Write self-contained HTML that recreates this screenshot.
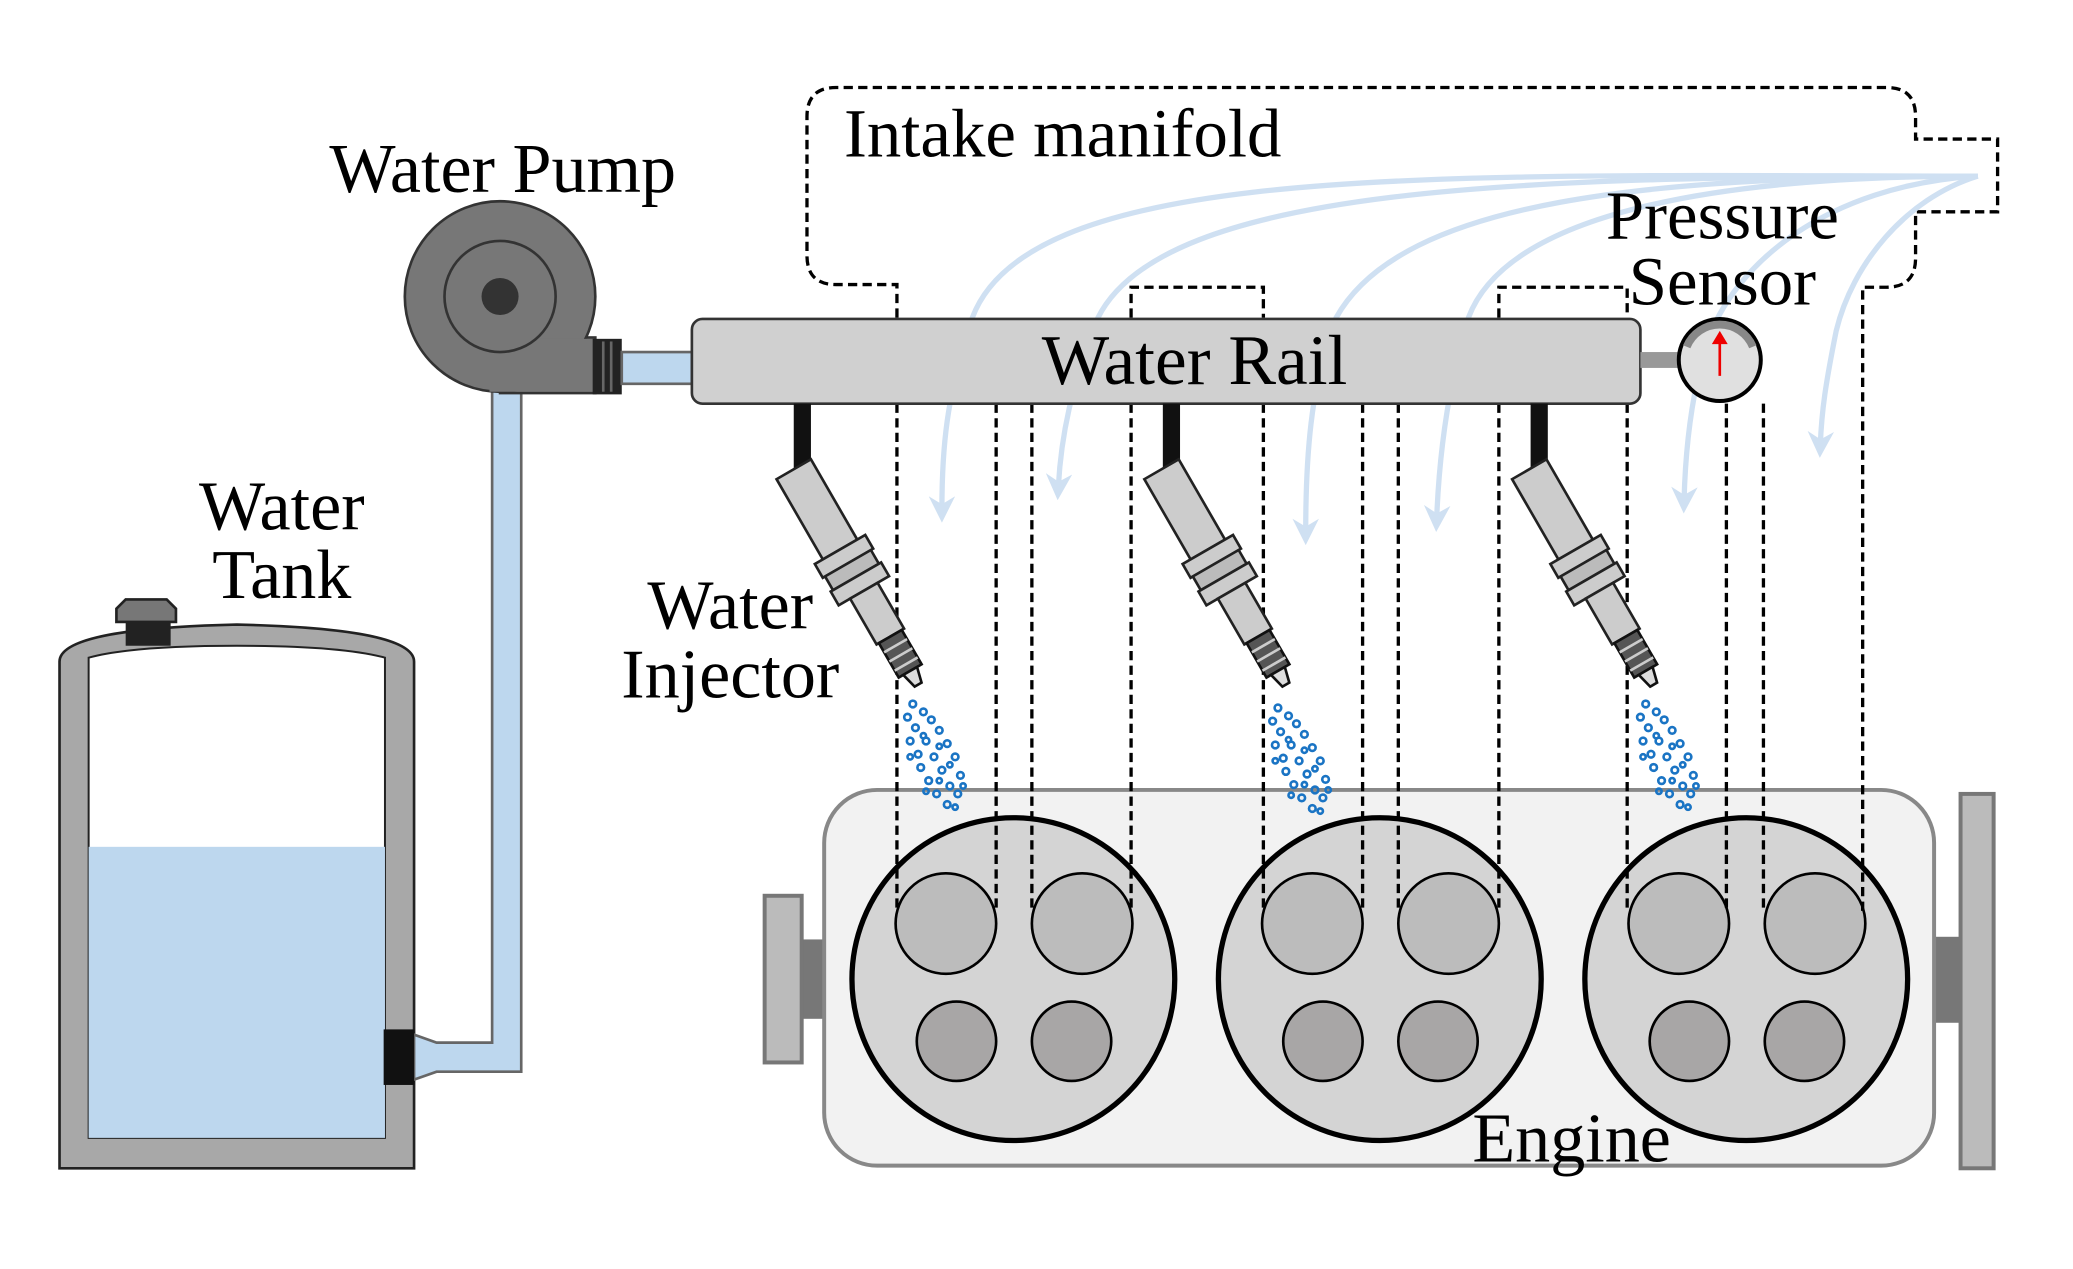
<!DOCTYPE html>
<html><head><meta charset="utf-8"><style>
html,body{margin:0;padding:0;background:#fff}
svg{display:block}
text{font-family:"Liberation Serif",serif;fill:#000}
</style></head><body>
<svg width="2073" height="1269" viewBox="0 0 1567 959" xmlns="http://www.w3.org/2000/svg">
<defs>
<marker id="ar" viewBox="0 0 10 10" refX="5" refY="5" markerWidth="5" markerHeight="5" orient="auto"><path d="M0,0 L10,5 L0,10 L3,5 Z" fill="#cfe0f2"/></marker>
<g id="inj">
  <rect x="-15" y="-12" width="30" height="70" fill="#ccc" stroke="#222" stroke-width="2"/>
  <rect x="-22" y="58" width="44" height="12" fill="#ccc" stroke="#222" stroke-width="2"/>
  <rect x="-20" y="70" width="40" height="12" fill="#bbb" stroke="#222" stroke-width="2"/>
  <rect x="-22" y="82" width="44" height="12" fill="#ccc" stroke="#222" stroke-width="2"/>
  <rect x="-12" y="94" width="24" height="40" fill="#ccc" stroke="#222" stroke-width="2"/>
  <rect x="-10" y="134" width="20" height="30" fill="#555" stroke="#111" stroke-width="2"/>
  <line x1="-10" y1="142" x2="10" y2="142" stroke="#ccc" stroke-width="2"/>
  <line x1="-10" y1="150" x2="10" y2="150" stroke="#ccc" stroke-width="2"/>
  <line x1="-10" y1="158" x2="10" y2="158" stroke="#ccc" stroke-width="2"/>
  <path d="M-6,164 L6,164 L3,176 L-3,176 Z" fill="#ddd" stroke="#111" stroke-width="2"/>
</g>
<g id="spray" fill="none" stroke="#1a74c4" stroke-width="2">
  <circle cx="0" cy="0" r="2.5"/><circle cx="8" cy="6" r="2.5"/><circle cx="-4" cy="10" r="2.5"/><circle cx="14" cy="12" r="2.5"/>
  <circle cx="2" cy="18" r="2.5"/><circle cx="20" cy="20" r="2.5"/><circle cx="-2" cy="28" r="2.5"/><circle cx="10" cy="28" r="2.5"/>
  <circle cx="26" cy="30" r="2.5"/><circle cx="4" cy="38" r="2.5"/><circle cx="16" cy="40" r="2.5"/><circle cx="32" cy="40" r="2.5"/>
  <circle cx="6" cy="48" r="2.5"/><circle cx="22" cy="50" r="2.5"/><circle cx="36" cy="54" r="2.5"/><circle cx="12" cy="58" r="2.5"/>
  <circle cx="28" cy="62" r="2.5"/><circle cx="18" cy="68" r="2.5"/><circle cx="34" cy="68" r="2.5"/><circle cx="26" cy="76" r="2.5"/>
  <circle cx="8" cy="24" r="2"/><circle cx="20" cy="32" r="2"/><circle cx="28" cy="46" r="2"/><circle cx="20" cy="58" r="2"/><circle cx="32" cy="78" r="2"/>
  <circle cx="-2" cy="40" r="2"/><circle cx="10" cy="66" r="2"/><circle cx="38" cy="62" r="2"/>
</g>
</defs>

<!-- Water tank -->
<path d="M45,883 L45,500 Q45,475 179,472 Q313,475 313,500 L313,883 Z" fill="#a8a8a8" stroke="#222" stroke-width="2"/>
<path d="M67,860 L67,497 Q100,488 179,488 Q258,488 291,497 L291,860 Z" fill="#fff" stroke="#222" stroke-width="1.5"/>
<rect x="67" y="640" width="224" height="220" fill="#bdd7ee"/>
<rect x="95" y="470" width="34" height="18" fill="#222"/>
<path d="M88,470 L88,460 L95,453 L126,453 L133,460 L133,470 Z" fill="#777" stroke="#222" stroke-width="2"/>
<text x="213" y="400" font-size="53" text-anchor="middle">Water</text>
<text x="213" y="452" font-size="53" text-anchor="middle">Tank</text>

<!-- pipe -->
<path d="M313,782 L330,788 L372,788 L372,290 L394,290 L394,810 L330,810 L313,816 Z" fill="#bdd7ee" stroke="#666" stroke-width="2"/>
<rect x="290" y="778" width="23" height="42" fill="#111"/>

<!-- pump -->
<rect x="378" y="255" width="72" height="42" fill="#777" stroke="#333" stroke-width="2"/>
<circle cx="378" cy="224" r="72" fill="#777" stroke="#333" stroke-width="2"/>
<rect x="370" y="256" width="78" height="40" fill="#777"/>
<circle cx="378" cy="224" r="42" fill="#777" stroke="#333" stroke-width="2"/>
<circle cx="378" cy="224" r="14" fill="#333"/>
<rect x="448" y="256" width="22" height="42" fill="#222"/>
<line x1="456" y1="258" x2="456" y2="296" stroke="#666" stroke-width="2"/>
<line x1="462" y1="258" x2="462" y2="296" stroke="#666" stroke-width="2"/>
<rect x="470" y="266" width="53" height="24" fill="#bdd7ee" stroke="#666" stroke-width="2"/>
<text x="380" y="145" font-size="53" text-anchor="middle">Water Pump</text>

<!-- engine -->
<rect x="606" y="710" width="20" height="60" fill="#777"/>
<rect x="578" y="677" width="28" height="126" fill="#bbb" stroke="#777" stroke-width="3"/>
<rect x="1460" y="708" width="24" height="65" fill="#777"/>
<rect x="1482" y="600" width="25" height="283" fill="#bbb" stroke="#777" stroke-width="3"/>
<rect x="623" y="597" width="839" height="284" rx="40" fill="#f2f2f2" stroke="#888" stroke-width="3"/>
<g stroke="#000" stroke-width="4">
<circle cx="766" cy="740" r="122" fill="#d4d4d4"/>
<circle cx="1043" cy="740" r="122" fill="#d4d4d4"/>
<circle cx="1320" cy="740" r="122" fill="#d4d4d4"/>
</g>
<g stroke="#000" stroke-width="2" fill="#bcbcbc">
<circle cx="715" cy="698" r="38"/><circle cx="818" cy="698" r="38"/>
<circle cx="992" cy="698" r="38"/><circle cx="1095" cy="698" r="38"/>
<circle cx="1269" cy="698" r="38"/><circle cx="1372" cy="698" r="38"/>
</g>
<g stroke="#000" stroke-width="2" fill="#a8a6a6">
<circle cx="723" cy="787" r="30"/><circle cx="810" cy="787" r="30"/>
<circle cx="1000" cy="787" r="30"/><circle cx="1087" cy="787" r="30"/>
<circle cx="1277" cy="787" r="30"/><circle cx="1364" cy="787" r="30"/>
</g>
<text x="1188" y="878" font-size="53" text-anchor="middle">Engine</text>

<!-- manifold dashed -->
<g fill="none" stroke="#000" stroke-width="2.5" stroke-dasharray="7,4">
<path d="M678,240 L678,215 L632,215 Q610,215 610,193 L610,88 Q610,66 632,66 L1426,66 Q1448,66 1448,88 L1448,105 L1510,105 L1510,160 L1448,160 L1448,195 Q1448,217 1426,217 L1408,217 L1408,690"/>
<path d="M855,240 L855,217 L955,217 L955,240"/>
<path d="M1133,240 L1133,217 L1230,217 L1230,240"/>
<path d="M678,305 L678,690 M753,305 L753,690 M780,305 L780,690 M855,305 L855,690"/>
<path d="M955,305 L955,690 M1030,305 L1030,690 M1057,305 L1057,690 M1133,305 L1133,690"/>
<path d="M1230,305 L1230,690 M1305,305 L1305,690 M1333,305 L1333,690"/>
</g>
<text x="638" y="118" font-size="52">Intake manifold</text>

<!-- airflow -->
<g fill="none" stroke="#cfe0f2" stroke-width="4" marker-end="url(#ar)">
<path d="M1495,133 C1100,133 780,120 735,240 C715,300 712,340 712,385"/>
<path d="M1495,133 C1150,133 880,140 830,240 C810,290 802,330 800,368"/>
<path d="M1495,133 C1250,133 1060,150 1010,240 C990,290 987,350 987,402"/>
<path d="M1495,133 C1300,133 1140,160 1110,240 C1095,290 1088,340 1086,392"/>
<path d="M1495,133 C1380,140 1310,200 1290,260 C1278,300 1274,340 1273,378"/>
<path d="M1495,133 C1440,150 1400,200 1388,250 C1380,290 1377,310 1376,336"/>
</g>

<!-- rail -->
<rect x="523" y="241" width="717" height="64" rx="8" fill="#d0d0d0" stroke="#333" stroke-width="2"/>
<text x="903" y="290" font-size="54" text-anchor="middle">Water Rail</text>
<rect x="1240" y="266" width="30" height="12" fill="#999"/>
<circle cx="1300" cy="272" r="31" fill="#e0e0e0" stroke="#000" stroke-width="3"/>
<path d="M1275,262 A27,27 0 0 1 1325,262" fill="none" stroke="#888" stroke-width="6"/>
<line x1="1300" y1="284" x2="1300" y2="256" stroke="#e00" stroke-width="2"/>
<path d="M1294,260 L1300,250 L1306,260 Z" fill="#e00"/>
<text x="1302" y="180" font-size="52" text-anchor="middle">Pressure</text>
<text x="1302" y="230" font-size="52" text-anchor="middle">Sensor</text>

<!-- injectors -->
<rect x="600" y="305" width="13" height="55" fill="#111"/>
<rect x="879" y="305" width="13" height="55" fill="#111"/>
<rect x="1157" y="305" width="13" height="55" fill="#111"/>
<g transform="translate(606,365) rotate(-30)"><use href="#inj"/></g>
<g transform="translate(884,365) rotate(-30)"><use href="#inj"/></g>
<g transform="translate(1162,365) rotate(-30)"><use href="#inj"/></g>
<use href="#spray" transform="translate(690,532)"/>
<use href="#spray" transform="translate(966,535)"/>
<use href="#spray" transform="translate(1244,532)"/>
<text x="552" y="475" font-size="53" text-anchor="middle">Water</text>
<text x="552" y="527" font-size="53" text-anchor="middle">Injector</text>
</svg>
</body></html>
